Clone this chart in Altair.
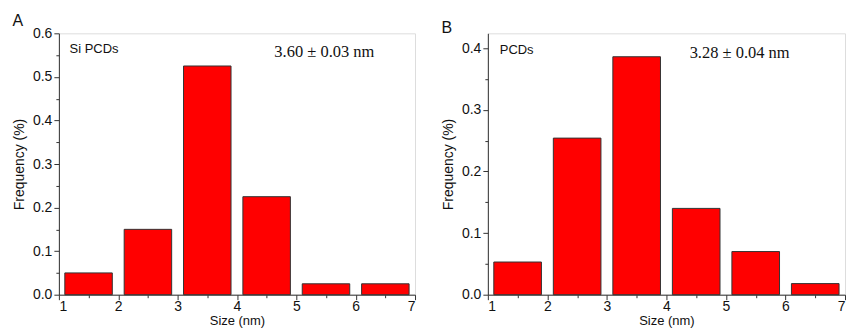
import altair as alt
import pandas as pd

# ---- data ----
size_centers = [1.5, 2.5, 3.5, 4.5, 5.5, 6.5]
freq_a = [0.05, 0.15, 0.525, 0.225, 0.025, 0.025]
freq_b = [0.053, 0.254, 0.386, 0.14, 0.07, 0.018]
bar_width = 0.8

x_major = [1, 2, 3, 4, 5, 6, 7]
x_minor = [1.5, 2.5, 3.5, 4.5, 5.5, 6.5]
y_major_a = [0.0, 0.1, 0.2, 0.3, 0.4, 0.5, 0.6]
y_minor_a = [0.05, 0.15, 0.25, 0.35, 0.45, 0.55]
y_major_b = [0.0, 0.1, 0.2, 0.3, 0.4]
y_minor_b = [0.05, 0.15, 0.25, 0.35]

panel_labels = ["A", "B"]
sample_names = ["Si PCDs", "PCDs"]
mean_texts = ["3.60 \u00b1 0.03 nm", "3.28 \u00b1 0.04 nm"]
# annotation anchor points (data coords)
sample_pos = [(1.18, 0.563), (1.2, 0.397)]
mean_pos = [(4.63, 0.556), (4.39, 0.392)]

SANS = "Liberation Sans"
SERIF = "Liberation Serif"
DARK = "#333333"


def panel(freqs, ymax, ymajor, yminor, label, sample, mean, spos, mpos, width, height):
    df = pd.DataFrame({"center": size_centers, "freq": freqs})
    xs = alt.Scale(domain=[1, 7], nice=False, zero=False)
    ys = alt.Scale(domain=[0, ymax], nice=False)

    base = alt.Chart(df).transform_calculate(
        lo=f"datum.center - {bar_width / 2}", hi=f"datum.center + {bar_width / 2}"
    )
    bars = base.mark_bar(color="#ff0000", stroke=DARK, strokeWidth=1).encode(
        x=alt.X("lo:Q", scale=xs, axis=alt.Axis(
            values=x_major, format="d", title="Size (nm)", orient="bottom",
            tickSize=5, labelPadding=0, labelFontSize=14, titleFontSize=13,
            titlePadding=1, grid=False, labelFont=SANS, titleFont=SANS,
            titleFontWeight="normal", domainColor=DARK, tickColor=DARK,
            labelColor="#111", titleColor="#111")),
        x2="hi:Q",
        y=alt.Y("freq:Q", scale=ys, axis=alt.Axis(
            values=ymajor, format=".1f", title="Frequency (%)", orient="left",
            tickSize=5, labelPadding=2, labelFontSize=14, titleFontSize=14,
            titlePadding=6, grid=False, labelFont=SANS, titleFont=SANS,
            titleFontWeight="normal", domainColor=DARK, tickColor=DARK,
            labelColor="#111", titleColor="#111")),
        y2=alt.datum(0),
    )
    minor = base.mark_point(opacity=0).encode(
        x=alt.X("center:Q", scale=xs, axis=alt.Axis(
            values=x_minor, labels=False, title=None, orient="bottom",
            tickSize=3, domain=False, grid=False, tickColor=DARK, ticks=True)),
        y=alt.Y("freq:Q", scale=ys, axis=alt.Axis(
            values=yminor, labels=False, title=None, orient="left",
            tickSize=3, domain=False, grid=False, tickColor=DARK, ticks=True)),
    )
    tdf = pd.DataFrame({
        "x": [spos[0], mpos[0]], "y": [spos[1], mpos[1]],
        "t": [sample, mean], "kind": ["sample", "mean"],
    })
    t1 = alt.Chart(tdf).transform_filter("datum.kind == 'sample'").mark_text(
        align="left", baseline="middle", font=SANS, fontSize=13, color="#111"
    ).encode(
        x=alt.X("x:Q", scale=xs, axis=None), y=alt.Y("y:Q", scale=ys, axis=None), text="t:N"
    )
    t2 = alt.Chart(tdf).transform_filter("datum.kind == 'mean'").mark_text(
        align="left", baseline="middle", font=SERIF, fontSize=16.5, color="#111"
    ).encode(
        x=alt.X("x:Q", scale=xs, axis=None), y=alt.Y("y:Q", scale=ys, axis=None), text="t:N"
    )
    return alt.layer(bars, minor, t1, t2).resolve_axis(
        x="independent", y="independent"
    ).properties(
        width=width, height=height,
        title=alt.TitleParams(label, anchor="start", frame="bounds", fontSize=16,
                              font=SANS, fontWeight="normal", color="#111", offset=-3),
    )


pa = panel(freq_a, 0.6, y_major_a, y_minor_a, panel_labels[0], sample_names[0],
           mean_texts[0], sample_pos[0], mean_pos[0], 357, 262)
pb = panel(freq_b, 0.424, y_major_b, y_minor_b, panel_labels[1], sample_names[1],
           mean_texts[1], sample_pos[1], mean_pos[1], 358, 262)

chart = alt.hconcat(pa, pb, spacing=25).properties(
    padding={"left": 4, "top": 4, "right": 0, "bottom": 0}
).configure_view(stroke="#555555", strokeWidth=1.3).configure(font=SANS)

chart.save("out.html", embed_options={"renderer": "svg", "actions": False})
